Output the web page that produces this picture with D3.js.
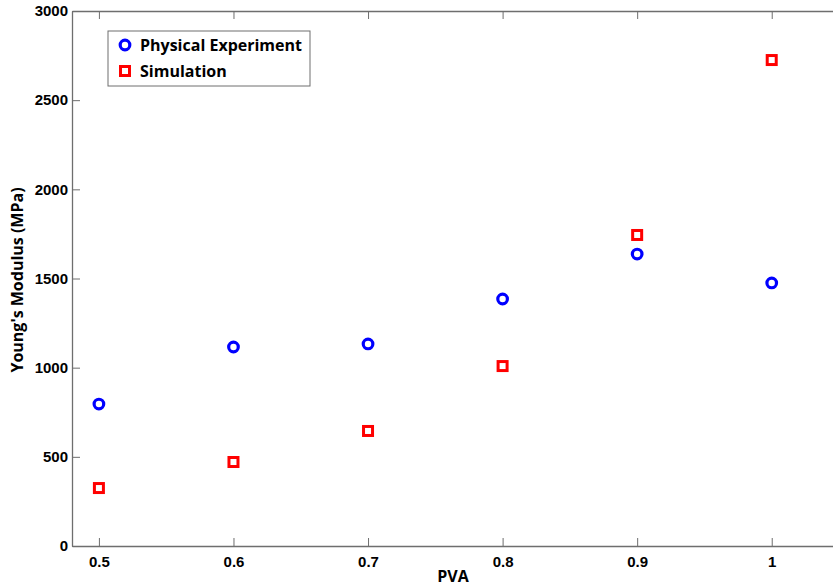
<!DOCTYPE html>
<html>
<head>
<meta charset="utf-8">
<script src="https://cdn.jsdelivr.net/npm/d3@7"></script>
<style>
  body { margin: 0; background: #fff; }
  svg { display: block; }
</style>
</head>
<body>
<div id="chart"></div>
<script>
// values
var pvaLevels = [0.5, 0.6, 0.7, 0.8, 0.9, 1.0];
var physicalModulus = [796, 1116, 1133, 1385, 1637, 1475];
var simulationModulus = [325, 471, 645, 1009, 1744, 2725];
var xTicks = [0.5, 0.6, 0.7, 0.8, 0.9, 1];
var yTicks = [0, 500, 1000, 1500, 2000, 2500, 3000];
var seriesNames = ['Physical Experiment', 'Simulation'];

var width = 833;
var height = 588;
var margin = { top: 11, right: -6, bottom: 42, left: 72 };
var w = width - margin.left - margin.right;
var h = height - margin.top - margin.bottom;

var svg = d3.select('#chart').append('svg')
  .attr('width', width)
  .attr('height', height);

var g = svg.append('g')
  .attr('transform', 'translate(' + margin.left + ',' + margin.top + ')');

var xScale = d3.scaleLinear().domain([0.48, 1.05]).range([0, w]);
var yScale = d3.scaleLinear().domain([0, 3000]).range([h, 0]);

var axisColor = '#6e6e6e';

// bottom axis (ticks inside)
var xaxis = d3.axisBottom(xScale).tickValues(xTicks).tickSize(-8).tickSizeOuter(0).tickPadding(10)
  .tickFormat(function(d) { return d === 1 ? '1' : d3.format('.1f')(d); });
var gx = g.append('g').attr('transform', 'translate(0,' + h + ')').call(xaxis);

// top axis, no labels
var xaxisTop = d3.axisTop(xScale).tickValues(xTicks).tickSize(-8).tickSizeOuter(0).tickFormat(function() { return ''; });
var gxt = g.append('g').call(xaxisTop);

// left axis
var yaxis = d3.axisLeft(yScale).tickValues(yTicks).tickSize(-8).tickSizeOuter(0).tickPadding(4)
  .tickFormat(d3.format('d'));
var gy = g.append('g').call(yaxis);

[gx, gxt, gy].forEach(function(s) {
  s.selectAll('.domain').attr('stroke', axisColor).attr('stroke-width', 1.3);
  s.selectAll('.tick line').attr('stroke', axisColor);
  s.selectAll('.tick text')
    .attr('font-family', '"Liberation Sans", Arial, sans-serif')
    .attr('font-weight', 'bold')
    .attr('font-size', 15)
    .attr('fill', '#000');
});
gx.attr('font-size', 15);
gy.attr('font-size', 15);
gx.selectAll('.tick text').attr('dy', '0.71em');

// markers
g.append('g').selectAll('circle')
  .data(pvaLevels)
  .enter()
  .append('circle')
  .attr('cx', function(d) { return xScale(d); })
  .attr('cy', function(d, i) { return yScale(physicalModulus[i]); })
  .attr('r', 4.8)
  .attr('fill', 'none')
  .attr('stroke', '#0000ff')
  .attr('stroke-width', 3.2);

g.append('g').selectAll('rect')
  .data(pvaLevels)
  .enter()
  .append('rect')
  .attr('x', function(d) { return xScale(d) - 4.5; })
  .attr('y', function(d, i) { return yScale(simulationModulus[i]) - 4.5; })
  .attr('width', 9)
  .attr('height', 9)
  .attr('fill', 'none')
  .attr('stroke', '#ff0000')
  .attr('stroke-width', 3);

// axis titles
svg.append('text')
  .attr('x', 453)
  .attr('y', 582)
  .attr('text-anchor', 'middle')
  .style('font-family', '"Open Sans", sans-serif')
  .style('font-weight', 'bold')
  .style('font-size', '16px')
  .text('PVA');

svg.append('text')
  .attr('transform', 'translate(23,280) rotate(-90)')
  .attr('text-anchor', 'middle')
  .style('font-family', '"Open Sans", sans-serif')
  .style('font-weight', 'bold')
  .style('font-size', '16px')
  .text("Young's Modulus (MPa)");

// legend
var legend = svg.append('g').attr('transform', 'translate(108,31)');
legend.append('rect')
  .attr('width', 202)
  .attr('height', 55)
  .attr('fill', '#fff')
  .attr('stroke', axisColor)
  .attr('stroke-width', 1);

var items = legend.selectAll('.item')
  .data(seriesNames)
  .enter()
  .append('g')
  .attr('transform', function(d, i) { return 'translate(0,' + (14 + i * 26) + ')'; });

items.each(function(d, i) {
  var it = d3.select(this);
  if (i === 0) {
    it.append('circle').attr('cx', 17).attr('cy', 0).attr('r', 4.8)
      .attr('fill', 'none').attr('stroke', '#0000ff').attr('stroke-width', 3.2);
  } else {
    it.append('rect').attr('x', 12.5).attr('y', -4.5).attr('width', 9).attr('height', 9)
      .attr('fill', 'none').attr('stroke', '#ff0000').attr('stroke-width', 3);
  }
  it.append('text')
    .attr('x', 32)
    .attr('y', 0)
    .attr('dy', '0.35em')
    .style('font-family', '"Open Sans", sans-serif')
    .style('font-weight', 'bold')
    .style('font-size', '16px')
    .text(d);
});
</script>
</body>
</html>
